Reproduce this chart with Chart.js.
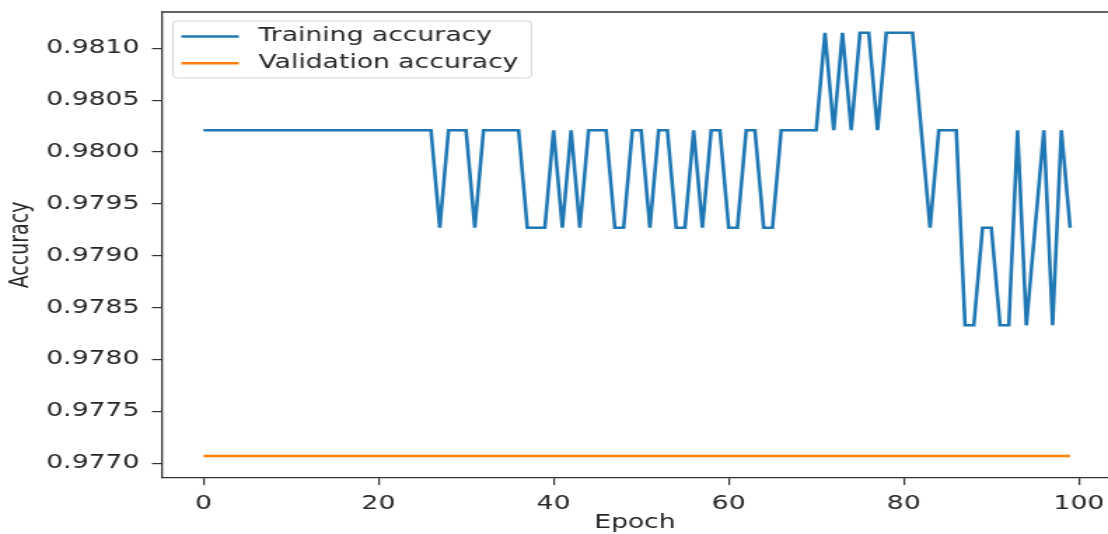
<!DOCTYPE html>
<html>
<head>
<meta charset="utf-8">
<script src="https://cdn.jsdelivr.net/npm/chart.js@4.4.1/dist/chart.umd.min.js"></script>
<style>
  html, body { margin: 0; padding: 0; background: #fff; overflow: hidden; }
  #myChart { display: block; }
</style>
</head>
<body>
<!-- the reference is a stretched image, so draw narrow and stretch with css -->
<canvas id="myChart" width="791" height="534" style="width:1108px;height:534px"></canvas>
<script>
// accuracy per epoch
const training = [
    0.98021, 0.98021, 0.98021, 0.98021, 0.98021, 0.98021, 0.98021, 0.98021, 0.98021, 0.98021,
    0.98021, 0.98021, 0.98021, 0.98021, 0.98021, 0.98021, 0.98021, 0.98021, 0.98021, 0.98021,
    0.98021, 0.98021, 0.98021, 0.98021, 0.98021, 0.98021, 0.98021, 0.97927, 0.98021, 0.98021,
    0.98021, 0.97927, 0.98021, 0.98021, 0.98021, 0.98021, 0.98021, 0.97927, 0.97927, 0.97927,
    0.98021, 0.97927, 0.98021, 0.97927, 0.98021, 0.98021, 0.98021, 0.97927, 0.97927, 0.98021,
    0.98021, 0.97927, 0.98021, 0.98021, 0.97927, 0.97927, 0.98021, 0.97927, 0.98021, 0.98021,
    0.97927, 0.97927, 0.98021, 0.98021, 0.97927, 0.97927, 0.98021, 0.98021, 0.98021, 0.98021,
    0.98021, 0.98115, 0.98021, 0.98115, 0.98021, 0.98115, 0.98115, 0.98021, 0.98115, 0.98115,
    0.98115, 0.98115, 0.98021, 0.97927, 0.98021, 0.98021, 0.98021, 0.97833, 0.97833, 0.97927,
    0.97927, 0.97833, 0.97833, 0.98021, 0.97833, 0.97927, 0.98021, 0.97833, 0.98021, 0.97927
];

const validation = [
    0.97707, 0.97707, 0.97707, 0.97707, 0.97707, 0.97707, 0.97707, 0.97707, 0.97707, 0.97707,
    0.97707, 0.97707, 0.97707, 0.97707, 0.97707, 0.97707, 0.97707, 0.97707, 0.97707, 0.97707,
    0.97707, 0.97707, 0.97707, 0.97707, 0.97707, 0.97707, 0.97707, 0.97707, 0.97707, 0.97707,
    0.97707, 0.97707, 0.97707, 0.97707, 0.97707, 0.97707, 0.97707, 0.97707, 0.97707, 0.97707,
    0.97707, 0.97707, 0.97707, 0.97707, 0.97707, 0.97707, 0.97707, 0.97707, 0.97707, 0.97707,
    0.97707, 0.97707, 0.97707, 0.97707, 0.97707, 0.97707, 0.97707, 0.97707, 0.97707, 0.97707,
    0.97707, 0.97707, 0.97707, 0.97707, 0.97707, 0.97707, 0.97707, 0.97707, 0.97707, 0.97707,
    0.97707, 0.97707, 0.97707, 0.97707, 0.97707, 0.97707, 0.97707, 0.97707, 0.97707, 0.97707,
    0.97707, 0.97707, 0.97707, 0.97707, 0.97707, 0.97707, 0.97707, 0.97707, 0.97707, 0.97707,
    0.97707, 0.97707, 0.97707, 0.97707, 0.97707, 0.97707, 0.97707, 0.97707, 0.97707, 0.97707
];

// epoch number is just the index
const epochs = training.map((_, i) => i);

const xTicks = [0, 20, 40, 60, 80, 100];
const yTicks = [0.9770, 0.9775, 0.9780, 0.9785, 0.9790, 0.9795, 0.9800, 0.9805, 0.9810];

const textColor = "#262626";
const axisColor = "#333333";

Chart.defaults.font.family = "'DejaVu Sans', sans-serif";
Chart.defaults.font.size = 19;
Chart.defaults.color = textColor;

// matplotlib style legend box in the top left corner
const legendBox = {
    id: "legendBox",
    afterDraw(chart) {
        let ctx = chart.ctx;
        let left = chart.chartArea.left;
        let top = chart.chartArea.top;

        ctx.save();
        ctx.beginPath();
        ctx.roundRect(left + 8, top + 9, 256, 57, 3);
        ctx.fillStyle = "rgba(255,255,255,0.8)";
        ctx.fill();
        ctx.strokeStyle = "#d4d4d4";
        ctx.lineWidth = 1;
        ctx.stroke();

        ctx.font = "19px 'DejaVu Sans'";
        ctx.textBaseline = "middle";
        chart.data.datasets.forEach((ds, i) => {
            let y = top + 24.5 + i * 26.7;
            ctx.strokeStyle = ds.borderColor;
            ctx.lineWidth = ds.borderWidth;
            ctx.beginPath();
            ctx.moveTo(left + 14, y);
            ctx.lineTo(left + 55, y);
            ctx.stroke();
            ctx.fillStyle = textColor;
            ctx.fillText(ds.label, left + 69, y);
        });
        ctx.restore();
    }
};

// top spine (right one falls off the image)
const topSpine = {
    id: "topSpine",
    afterDraw(chart) {
        let ctx = chart.ctx;
        let a = chart.chartArea;
        ctx.save();
        ctx.strokeStyle = axisColor;
        ctx.lineWidth = 1.3;
        ctx.beginPath();
        ctx.moveTo(a.left, a.top);
        ctx.lineTo(a.right, a.top);
        ctx.stroke();
        ctx.restore();
    }
};

let config = {
    type: "line",
    data: {
        labels: epochs,
        datasets: [
            {
                label: "Training accuracy",
                data: training,
                borderColor: "#1f77b4",
                borderWidth: 2.6,
                pointRadius: 0,
                fill: false,
                tension: 0
            },
            {
                label: "Validation accuracy",
                data: validation,
                borderColor: "#ff7f0e",
                borderWidth: 2.6,
                pointRadius: 0,
                fill: false,
                tension: 0
            }
        ]
    },
    options: {
        responsive: false,
        animation: false,
        devicePixelRatio: 1,
        layout: {
            padding: { left: 0, top: 12, right: 0, bottom: 0 }
        },
        plugins: {
            legend: { display: false },
            tooltip: { enabled: false }
        },
        scales: {
            x: {
                type: "linear",
                min: -4.75,
                max: 103.33,
                afterBuildTicks: s => { s.ticks = xTicks.map(v => ({ value: v })); },
                afterFit: s => {
                    s.height = 56;
                    s.paddingLeft = 0;
                    s.paddingRight = 0;
                },
                grid: { drawOnChartArea: false, tickLength: 7, color: axisColor, lineWidth: 1.2 },
                border: { color: axisColor, width: 1.3 },
                ticks: { padding: 8, color: textColor, callback: v => String(v) },
                title: {
                    display: true,
                    text: "Epoch",
                    padding: { top: 0, bottom: 0 }
                }
            },
            y: {
                type: "linear",
                min: 0.976858,
                max: 0.98135,
                afterBuildTicks: s => { s.ticks = yTicks.map(v => ({ value: v })); },
                afterFit: s => {
                    s.width = 115.5;
                    s.paddingTop = 0;
                    s.paddingBottom = 0;
                },
                grid: { drawOnChartArea: false, tickLength: 7, color: axisColor, lineWidth: 1.2 },
                border: { color: axisColor, width: 1.3 },
                ticks: { padding: 9, color: textColor, callback: v => v.toFixed(4) },
                title: {
                    display: true,
                    text: "Accuracy",
                    padding: { top: 4, bottom: 4 }
                }
            }
        }
    },
    plugins: [legendBox, topSpine]
};

let ctx = document.getElementById("myChart").getContext("2d");
let myChart = new Chart(ctx, config);
</script>
</body>
</html>
